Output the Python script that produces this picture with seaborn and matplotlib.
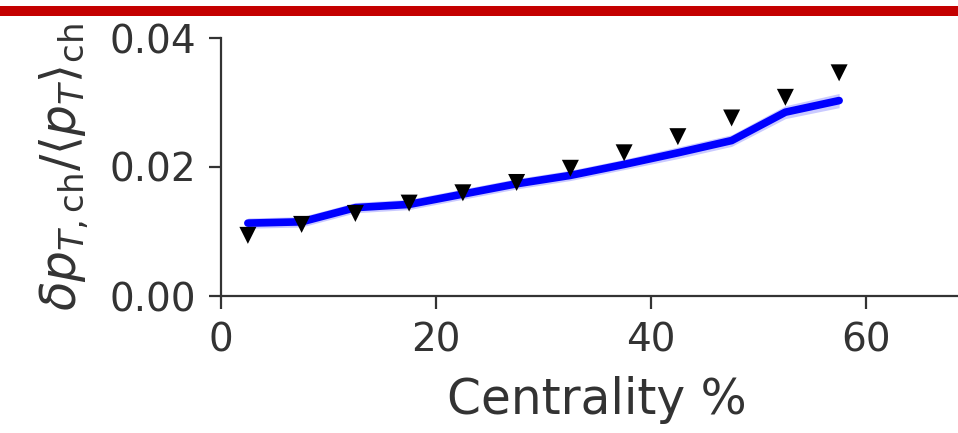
import matplotlib
matplotlib.use("Agg")
import matplotlib.pyplot as plt
from matplotlib.patches import Rectangle
import numpy as np
import pandas as pd
import seaborn as sns

# Centrality bin centres (%)
centrality = [2.5, 7.5, 12.5, 17.5, 22.5, 27.5, 32.5, 37.5, 42.5, 47.5, 52.5, 57.5]

# Measured relative mean-pT fluctuations
data_values = [0.0094, 0.0111, 0.0128, 0.0144, 0.0160, 0.0176, 0.0198, 0.0222,
               0.0247, 0.0276, 0.0308, 0.0346]

# Model prediction and its spread
model_values = [0.0113, 0.0115, 0.0137, 0.0142, 0.0158, 0.0174, 0.0187, 0.0204,
                0.0222, 0.0241, 0.0285, 0.0303]
model_spread = [0.0008, 0.0008, 0.0008, 0.0008, 0.0008, 0.0008, 0.0008, 0.0008,
                0.0009, 0.0009, 0.0010, 0.0011]

x_ticks = [0, 20, 40, 60]
y_ticks = [0.00, 0.02, 0.04]
y_tick_labels = ["0.00", "0.02", "0.04"]

sns.set_theme(style="ticks")
plt.rcParams["font.family"] = ["DejaVu Sans"]

W, H = 958, 433
fig = plt.figure(figsize=(W / 100, H / 100), dpi=100)

# red banner along the top edge
fig.patches.append(Rectangle((0, 1 - 16 / H), 1, 10 / H, transform=fig.transFigure,
                             facecolor="#c40000", edgecolor="none", zorder=5))

# axes run slightly past the right edge of the canvas
right_px = 972
ax = fig.add_axes([221 / W, (H - 296) / H, (right_px - 221) / W, (296 - 38) / H])

df_model = pd.DataFrame({"centrality": centrality, "value": model_values})
df_data = pd.DataFrame({"centrality": centrality, "value": data_values})

lo = np.array(model_values) - np.array(model_spread)
hi = np.array(model_values) + np.array(model_spread)
ax.fill_between(centrality, lo, hi, color="#5050ff", alpha=0.3, linewidth=0, zorder=1)
sns.lineplot(data=df_model, x="centrality", y="value", ax=ax, color="#0000ff",
             linewidth=5.5, zorder=2)
sns.scatterplot(data=df_data, x="centrality", y="value", ax=ax, marker="v",
                color="black", s=150, edgecolor="none", zorder=3)

ax.set_xlim(0, (right_px - 221) / 10.75)
ax.set_ylim(0, 0.04)
ax.set_xticks(x_ticks)
ax.set_yticks(y_ticks)
ax.set_yticklabels(y_tick_labels)
ax.tick_params(axis="both", labelsize=28, length=9, width=1.6, colors="#333333",
               labelcolor="#333333")
ax.tick_params(axis="y", pad=9)
ax.tick_params(axis="x", pad=9)
for side in ("left", "bottom"):
    ax.spines[side].set_linewidth(1.6)
    ax.spines[side].set_color("#333333")
sns.despine(ax=ax)

ax.set_xlabel("Centrality %", fontsize=35, color="#333333", labelpad=12)
ax.set_ylabel(r"$\delta p_{T,\mathrm{ch}}/\langle p_T\rangle_{\mathrm{ch}}$",
              fontsize=35, color="#333333", labelpad=14)

fig.savefig("out.png", dpi=100)
